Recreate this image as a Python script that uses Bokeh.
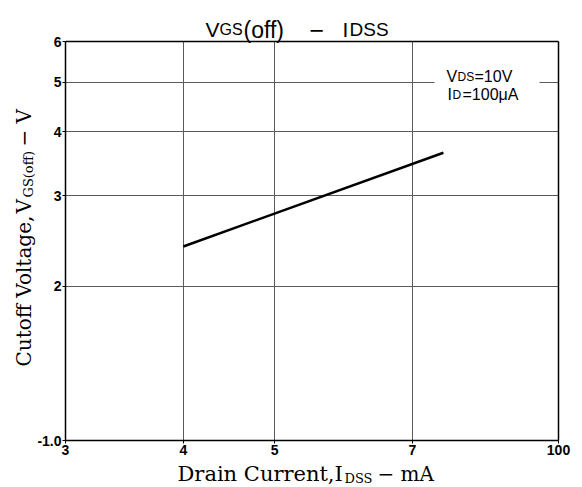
import math
from bokeh.plotting import figure
from bokeh.models import Range1d, FixedTicker, Label, BoxAnnotation, LogAxis, Grid
from bokeh.embed import file_html
from bokeh.resources import INLINE

# ---- data ----
idss_ma = [4.0, 7.55]
vgs_off_v = [2.39, 3.64]

x_ticks = [3, 4, 5, 7, 10]
x_tick_labels = ["3", "4", "5", "7", "100"]
y_ticks = [1, 2, 3, 4, 5, 6]
y_tick_labels = ["-1.0", "2", "3", "4", "5", "6"]
x_grid = [4, 5, 7]
y_grid = [2, 3, 4, 5]

# ---- layout (pixels on the canvas) ----
W, H = 580, 487
BOX_L, BOX_R, BOX_T, BOX_B = 65, 558, 41, 440   # plotting box edges

x0, x1 = x_ticks[0], x_ticks[-1]
y0, y1 = y_ticks[0], y_ticks[-1]
kx = (BOX_R - BOX_L) / (math.log10(x1) - math.log10(x0))
ky = (BOX_B - BOX_T) / (math.log10(y1) - math.log10(y0))
xr = Range1d(10 ** (math.log10(x0) - BOX_L / kx), 10 ** (math.log10(x1) + (W - BOX_R) / kx))
yr = Range1d(10 ** (math.log10(y0) - (H - BOX_B) / ky), 10 ** (math.log10(y1) + BOX_T / ky))

p = figure(width=W, height=H, x_axis_type="log", y_axis_type="log",
           x_range=xr, y_range=yr,
           output_backend="svg", toolbar_location=None,
           min_border=0, min_border_left=0, min_border_right=0,
           min_border_top=0, min_border_bottom=0)
p.title.visible = False
p.background_fill_color = "white"
p.border_fill_color = "white"
p.outline_line_color = None

for ax, ticks, labels, loc, bnds in ((p.xaxis[0], x_ticks, x_tick_labels, y0, (x0, x1)),
                                     (p.yaxis[0], y_ticks, y_tick_labels, x0, (y0, y1))):
    ax.fixed_location = loc
    ax.bounds = bnds
    ax.ticker = FixedTicker(ticks=ticks)
    ax.major_label_overrides = {t: l for t, l in zip(ticks, labels)}
    ax.axis_line_color = "black"
    ax.axis_line_width = 1.5
    ax.major_tick_out = 3
    ax.major_tick_in = 0
    ax.minor_tick_out = 0
    ax.minor_tick_in = 0
    ax.major_tick_line_color = "black"
    ax.major_label_text_font = "Liberation Sans"
    ax.major_label_text_font_style = "bold"
    ax.major_label_text_font_size = "14px"
    ax.major_label_text_color = "black"
    ax.major_label_standoff = 1

# top and right edges of the box
p.add_layout(LogAxis(fixed_location=y1, bounds=(x0, x1), ticker=FixedTicker(ticks=[]),
                     axis_line_color="black", axis_line_width=1.5,
                     major_tick_out=0, major_tick_in=0, minor_tick_out=0, minor_tick_in=0,
                     major_label_text_font_size="0px"), "above")
p.add_layout(LogAxis(fixed_location=x1, bounds=(y0, y1), ticker=FixedTicker(ticks=[]),
                     axis_line_color="black", axis_line_width=1.5,
                     major_tick_out=0, major_tick_in=0, minor_tick_out=0, minor_tick_in=0,
                     major_label_text_font_size="0px"), "right")

GRID_COLOR = "#5a5a5a"
if "cross_bounds" in Grid.properties():
    p.xgrid.ticker = FixedTicker(ticks=x_grid)
    p.xgrid.cross_bounds = (y0, y1)
    p.ygrid.ticker = FixedTicker(ticks=y_grid)
    p.ygrid.cross_bounds = (x0, x1)
    for g in (p.xgrid, p.ygrid):
        g.grid_line_color = GRID_COLOR
        g.grid_line_width = 1
        g.grid_line_alpha = 1.0
else:
    for g in (p.xgrid, p.ygrid):
        g.visible = False
    p.segment(x0=x_grid, y0=[y0] * len(x_grid), x1=x_grid, y1=[y1] * len(x_grid),
              line_color=GRID_COLOR, line_width=1)
    p.segment(x0=[x0] * len(y_grid), y0=y_grid, x1=[x1] * len(y_grid), y1=y_grid,
              line_color=GRID_COLOR, line_width=1)

p.line(idss_ma, vgs_off_v, line_width=2.5, line_color="black")

# white box behind the condition note
p.add_layout(BoxAnnotation(left=434, right=539, bottom=H - 108, top=H - 52,
                           left_units="screen", right_units="screen",
                           top_units="screen", bottom_units="screen",
                           fill_color="white", fill_alpha=1.0, line_color=None))


def lab(text, px, py, size, font, angle=0.0, style="normal"):
    p.add_layout(Label(x=px, y=H - py, x_units="screen", y_units="screen",
                       text=text, text_font=font, text_font_size=f"{size}px",
                       text_font_style=style, text_align="left",
                       text_baseline="alphabetic", angle=angle, text_color="black"))


SANS = "Liberation Sans"
SERIF = "DejaVu Serif"

# title
lab("V", 205, 29, 21, SANS)
lab("GS", 219, 29, 16, SANS)
lab("(off)", 243, 29, 23, SANS)
lab("\u2212", 309, 29, 25, SANS)
lab("I", 342, 29, 21, SANS)
lab("DSS", 349, 29, 19, SANS)

# condition note
lab("V", 446, 76, 16, SANS)
lab("DS", 457, 76, 12, SANS)
lab("=10V", 474, 76, 16, SANS)
lab("I", 447, 94, 16, SANS)
lab("D", 452, 94, 12, SANS)
lab("=100\u03bcA", 462, 94, 16, SANS)

# x axis label
lab("Drain Current,I", 177, 473, 21, SERIF)
lab("DSS", 344, 478, 13, SERIF)
lab("\u2212 mA", 377, 473, 20, SERIF)

# y axis label (rotated)
ang = math.pi / 2
lab("Cutoff Voltage,", 23, 366, 20, SERIF, angle=ang)
lab("V", 23, 213, 20, SERIF, angle=ang)
lab("GS(off)", 28, 197, 13, SERIF, angle=ang)
lab("\u2212 V", 23, 146, 20, SERIF, angle=ang)

open("out.html", "w").write(file_html(p, INLINE))
